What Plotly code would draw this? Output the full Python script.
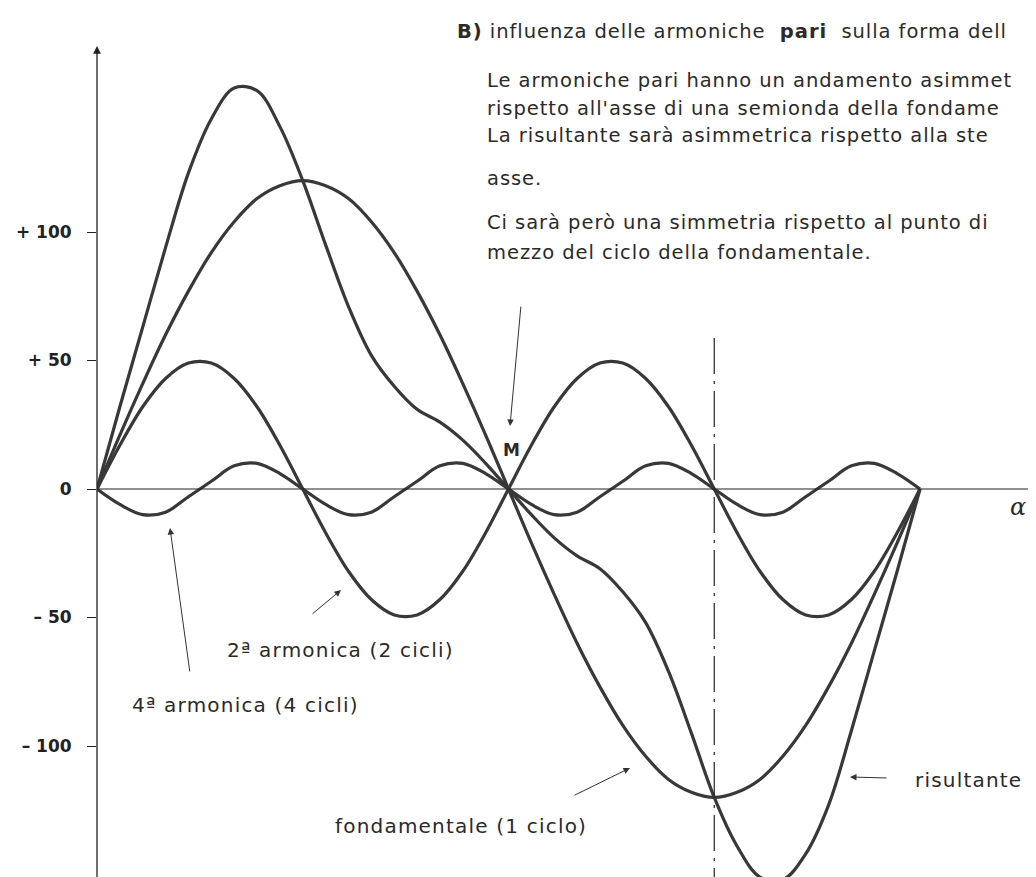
import plotly.graph_objects as go

# angle of the fundamental (degrees)
angles = list(range(0, 361, 10))
# values in %
fondamentale = [0, 21, 41, 60, 77, 92, 104, 113, 118, 120, 118, 113, 104, 92, 77, 60, 41, 21, 0,
                -21, -41, -60, -77, -92, -104, -113, -118, -120, -118, -113, -104, -92, -77, -60, -41, -21, 0]
armonica2 = [0, 17, 32, 43, 49, 49, 43, 32, 17, 0, -17, -32, -43, -49, -49, -43, -32, -17, 0,
             17, 32, 43, 49, 49, 43, 32, 17, 0, -17, -32, -43, -49, -49, -43, -32, -17, 0]
armonica4 = [0, -6, -10, -9, -3, 3, 9, 10, 6, 0, -6, -10, -9, -3, 3, 9, 10, 6, 0,
             -6, -10, -9, -3, 3, 9, 10, 6, 0, -6, -10, -9, -3, 3, 9, 10, 6, 0]
risultante = [0, 32, 63, 94, 123, 144, 156, 155, 141, 120, 95, 71, 52, 40, 31, 26, 19, 10, 0,
              -10, -19, -26, -31, -40, -52, -71, -95, -120, -139, -151, -152, -142, -123, -94, -63, -32, 0]

tick_vals = [100, 50, 0, -50, -100]
tick_text = ["+ 100", "+ 50", "0", "– 50", "– 100"]

W, H = 1036, 877
X0, XS = 89, 823 / 360.0   # pixel of origin, px per degree
Y0, YS = 481, 2.57         # pixel of zero, px per %


def dx(px):
    return (px - X0) / XS


def dy(py):
    return (Y0 - py) / YS


CURVE = dict(color="#383838", width=3.2, shape="spline", smoothing=1.0)
FONT = "DejaVu Sans"

fig = go.Figure()
for name, ys in [("fondamentale", fondamentale), ("2ª armonica", armonica2),
                 ("4ª armonica", armonica4), ("risultante", risultante)]:
    fig.add_trace(go.Scatter(x=angles, y=ys, mode="lines", name=name, line=CURVE,
                             hoverinfo="skip"))

ann = []
# axes with arrows
ann.append(dict(x=0, y=dy(38), xref="x", yref="y", ax=0, ay=H - 38, text="",
                showarrow=True, arrowhead=2, arrowsize=1.2, arrowwidth=1.3, arrowcolor="#222"))
ann.append(dict(x=dx(1031), y=0, xref="x", yref="y", ax=-(1031 - X0), ay=0, text="",
                showarrow=True, arrowhead=2, arrowsize=1.3, arrowwidth=1.2, arrowcolor="#222"))

# pointer arrows: (tip px, tail px)
for (tx, ty), (sx, sy) in [((502, 418), (513, 297)), ((162, 520), (182, 665)),
                           ((333, 582), (303, 607)), ((622, 760), (565, 788)),
                           ((842, 769), (880, 770))]:
    ann.append(dict(x=dx(tx), y=dy(ty), xref="x", yref="y", ax=sx - tx, ay=sy - ty, text="",
                    showarrow=True, arrowhead=2, arrowsize=1.3, arrowwidth=1, arrowcolor="#333"))


def label(text, px, py, size=20, anchor="left", bold=False, ls=0.0, family=FONT):
    if ls:
        text = '<span style="letter-spacing:%.2fpx">%s</span>' % (ls, text)
    ann.append(dict(x=dx(px), y=dy(py), xref="x", yref="y", text=text, showarrow=False,
                    xanchor=anchor, yanchor="middle",
                    font=dict(family=family, size=size, color="#2a2a2a",
                              weight="bold" if bold else "normal")))


label("y %", 51, 62, size=19, anchor="center")
label("M", 503, 442, size=17, anchor="center", bold=True)
label("<i>α</i>", 1010, 499, size=24, anchor="center", family="DejaVu Serif")
label("2ª armonica (2 cicli)", 217, 642, ls=1.2)
label("4ª armonica (4 cicli)", 122, 697, ls=1.2)
label("fondamentale (1 ciclo)", 325, 818, ls=1.2)
label("risultante", 905, 772, ls=1.2)

para = [
    ("<b>B)</b> influenza delle armoniche  <b>pari</b>  sulla forma dell", 447, 23),
    ("Le armoniche pari hanno un andamento asimmet", 477, 72),
    ("rispetto all'asse di una semionda della fondame", 477, 100),
    ("La risultante sarà asimmetrica rispetto alla ste", 477, 127),
    ("asse.", 477, 170),
    ("Ci sarà però una simmetria rispetto al punto di", 477, 214),
    ("mezzo del ciclo della fondamentale.", 477, 244),
]
for t, px, py in para:
    label(t, px, py, size=19.5, ls=0.95)

fig.add_shape(type="line", x0=270, x1=270, y0=dy(330), y1=dy(H), xref="x", yref="y",
              line=dict(color="#222", width=1.2, dash="36px,7px,3px,7px"))

fig.update_layout(
    width=W, height=H,
    margin=dict(l=X0, r=0, t=0, b=0, pad=0),
    paper_bgcolor="white", plot_bgcolor="white",
    showlegend=False,
    annotations=ann,
    xaxis=dict(range=[0, dx(W)], visible=False, showgrid=False, zeroline=False, fixedrange=True),
    yaxis=dict(range=[dy(H), dy(0)], showgrid=False, zeroline=False, showline=False,
               tickvals=tick_vals, ticktext=tick_text, ticks="outside", ticklen=9,
               tickcolor="#222", tickwidth=1, ticklabelstandoff=12,
               tickfont=dict(family=FONT, size=17, color="#222", weight="bold"),
               fixedrange=True),
)

fig.write_html("out.html")
